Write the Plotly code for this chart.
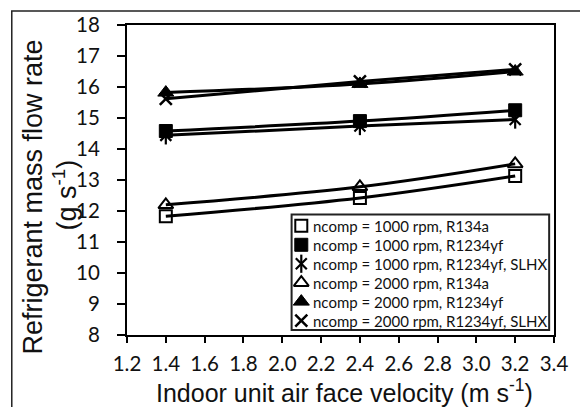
import plotly.graph_objects as go

# Indoor unit air face velocity (m/s)
velocity = [1.4, 2.4, 3.2]

# Refrigerant mass flow rate (g/s) per test condition
r134a_1000 = [11.83, 12.42, 13.13]
r1234yf_1000 = [14.58, 14.90, 15.25]
r1234yf_slhx_1000 = [14.44, 14.74, 14.95]
r134a_2000 = [12.20, 12.78, 13.52]
r1234yf_2000 = [15.82, 16.10, 16.50]
r1234yf_slhx_2000 = [15.62, 16.18, 16.57]

series_names = [
    "ncomp = 1000 rpm, R134a",
    "ncomp = 1000 rpm, R1234yf",
    "ncomp = 1000 rpm, R1234yf, SLHX",
    "ncomp = 2000 rpm, R134a",
    "ncomp = 2000 rpm, R1234yf",
    "ncomp = 2000 rpm, R1234yf, SLHX",
]
series_values = [r134a_1000, r1234yf_1000, r1234yf_slhx_1000,
                 r134a_2000, r1234yf_2000, r1234yf_slhx_2000]

x_ticks = [1.2, 1.4, 1.6, 1.8, 2.0, 2.2, 2.4, 2.6, 2.8, 3.0, 3.2, 3.4]
y_ticks = list(range(8, 19))

# each series' symbol is a list of one or more stacked marker layers
# (the six-armed asterisk is an x plus a vertical bar)
marker_styles = [
    [dict(symbol="square", size=12, color="white", line=dict(color="black", width=2))],
    [dict(symbol="square", size=13, color="black", line=dict(color="black", width=1))],
    [dict(symbol="x-thin-open", size=11, color="black", line=dict(color="black", width=2.2)),
     dict(symbol="line-ns-open", size=13, color="black", line=dict(color="black", width=2.2))],
    [dict(symbol="triangle-up", size=13, color="white", line=dict(color="black", width=2))],
    [dict(symbol="triangle-up", size=14, color="black", line=dict(color="black", width=1))],
    [dict(symbol="x-thin-open", size=12, color="black", line=dict(color="black", width=2.5))],
]

# figure geometry (pixels)
W, H = 580, 407
L, R, T, B = 127, 12, 24, 72
PX0, PX1 = L, W - R          # plot area left / right
PY0, PY1 = T, H - B          # plot area top / bottom

# boxed key in pixel units on a hidden overlay axis pair
KEY_BOX = (297, 214, 563, 330)
KEY_ROW0, KEY_ROW_STEP = 225.5, 19.0
KEY_SYMBOL_X, KEY_TEXT_X = 307, 317

fig = go.Figure()

for name, vals, layers in zip(series_names, series_values, marker_styles):
    for mk in layers:
        fig.add_trace(go.Scatter(x=velocity, y=vals, mode="markers", name=name,
                                 marker=mk, showlegend=False))

# smooth trend curves drawn over the markers
for vals in series_values:
    fig.add_trace(go.Scatter(x=velocity, y=vals, mode="lines",
                             line=dict(color="black", width=3, shape="spline"),
                             showlegend=False, hoverinfo="skip"))

# key symbols and labels
key_annotations = []
for i, (name, layers) in enumerate(zip(series_names, marker_styles)):
    ky = KEY_ROW0 + i * KEY_ROW_STEP
    for mk in layers:
        fig.add_trace(go.Scatter(x=[KEY_SYMBOL_X], y=[ky], mode="markers",
                                 marker=mk, xaxis="x2", yaxis="y2",
                                 showlegend=False, hoverinfo="skip", cliponaxis=False))
    key_annotations.append(dict(
        text=name, xref="x2", yref="y2", x=KEY_TEXT_X, y=ky,
        xanchor="left", yanchor="middle", showarrow=False,
        font=dict(family="Lato", size=15, color="#111111")))

tick_font = dict(family="Lato", size=20.5, color="#111111")
title_font = dict(family="Liberation Sans", size=25, color="#111111")

plot_w = PX1 - PX0
plot_h = PY1 - PY0


def px_to_paper_x(p):
    return (p - PX0) / plot_w


def px_to_paper_y(p):
    return (PY1 - p) / plot_h


fig.update_layout(
    width=W, height=H,
    margin=dict(l=L, r=R, t=T, b=B),
    paper_bgcolor="white", plot_bgcolor="white",
    showlegend=False,
    xaxis=dict(range=[1.2, 3.4], tickvals=x_ticks,
               ticktext=[f"{v:.1f}" for v in x_ticks],
               showgrid=False, zeroline=False,
               showline=True, linecolor="black", linewidth=2, mirror=True,
               ticks="outside", ticklen=6, tickwidth=2, tickcolor="black",
               tickfont=tick_font, ticklabelstandoff=3,
               ticklabeloverflow="allow"),
    yaxis=dict(range=[8, 18], tickvals=y_ticks,
               showgrid=False, zeroline=False,
               showline=True, linecolor="black", linewidth=2, mirror=True,
               ticks="outside", ticklen=8, tickwidth=2, tickcolor="black",
               tickfont=tick_font, ticklabelstandoff=13,
               ticklabeloverflow="allow"),
    xaxis2=dict(overlaying="x", range=[PX0, PX1], visible=False, fixedrange=True),
    yaxis2=dict(overlaying="y", range=[PY1, PY0], visible=False, fixedrange=True),
    annotations=[
        dict(text="Indoor unit air face velocity (m s<sup>-1</sup>)",
             xref="paper", yref="paper", x=px_to_paper_x(352), y=px_to_paper_y(391),
             xanchor="center", yanchor="middle", showarrow=False, font=title_font),
        dict(text="Refrigerant mass flow rate",
             xref="paper", yref="paper", x=px_to_paper_x(30), y=px_to_paper_y(197),
             textangle=-90, xanchor="center", yanchor="middle", showarrow=False,
             font=dict(family="Liberation Sans", size=27, color="#111111")),
        dict(text="(g s<sup>-1</sup>)",
             xref="paper", yref="paper", x=px_to_paper_x(63), y=px_to_paper_y(195),
             textangle=-90, xanchor="center", yanchor="middle", showarrow=False,
             font=dict(family="Liberation Sans", size=27, color="#111111")),
    ] + key_annotations,
    shapes=[
        # outer frame around the figure
        dict(type="rect", xref="paper", yref="paper",
             x0=px_to_paper_x(8), y0=px_to_paper_y(440),
             x1=px_to_paper_x(620), y1=px_to_paper_y(10),
             line=dict(color="#222222", width=1.5), layer="below"),
        # key box
        dict(type="rect", xref="x2", yref="y2",
             x0=KEY_BOX[0], y0=KEY_BOX[1], x1=KEY_BOX[2], y1=KEY_BOX[3],
             fillcolor="white", line=dict(color="#222222", width=2), layer="below"),
    ],
)

fig.write_html("out.html")
